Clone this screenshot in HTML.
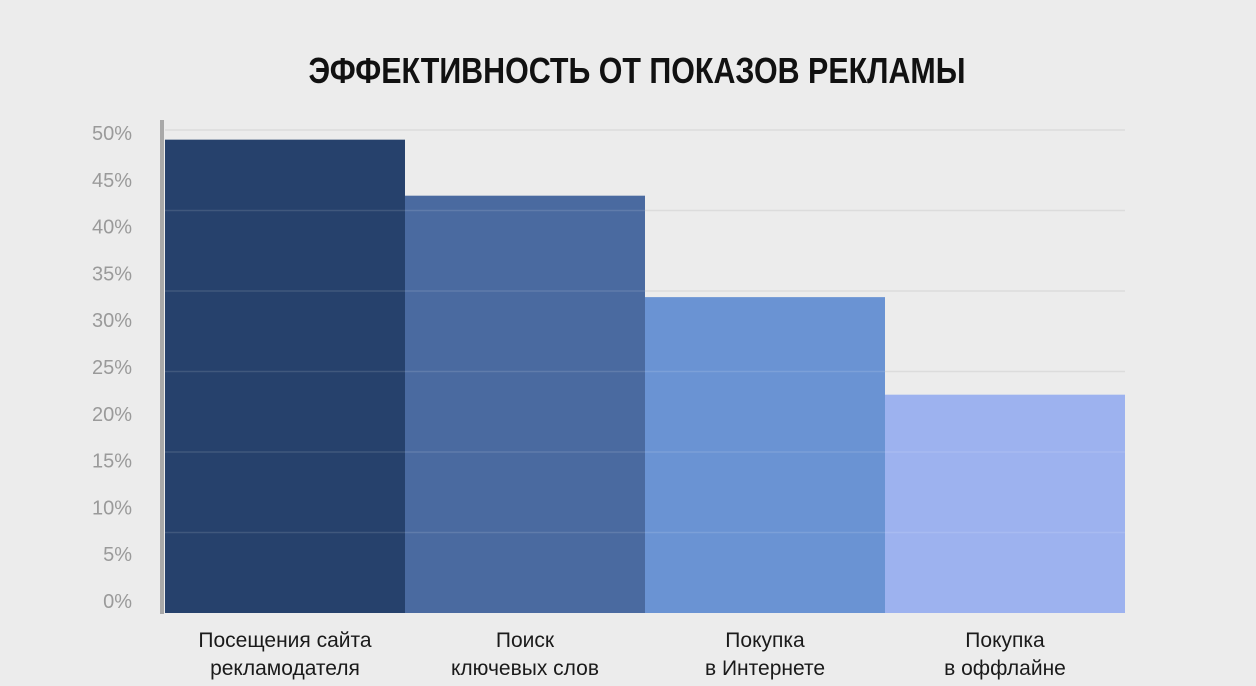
<!DOCTYPE html>
<html><head><meta charset="utf-8"><style>
body{margin:0;width:1256px;height:686px;background:#ececec;overflow:hidden;font-family:"Liberation Sans",sans-serif;}
svg{display:block}
</style></head><body>
<svg id="chart" width="1256" height="686" xmlns="http://www.w3.org/2000/svg">
<rect width="1256" height="686" fill="#ececec"/>
<text x="637" y="83" text-anchor="middle" textLength="657" lengthAdjust="spacingAndGlyphs" font-family="Liberation Sans, sans-serif" font-weight="bold" font-size="36" fill="#111">ЭФФЕКТИВНОСТЬ ОТ ПОКАЗОВ РЕКЛАМЫ</text>
<g id="grid"></g><g id="bars"></g><g id="gridover"></g><g id="yticks"></g><g id="xlabels"></g>
<rect x="160" y="120" width="4" height="494" fill="#a9a9a9"/>
</svg>
<script>
const categories=[["Посещения сайта","рекламодателя"],["Поиск","ключевых слов"],["Покупка","в Интернете"],["Покупка","в оффлайне"]];
const values=[49,43.2,32.7,22.6];
const colors=["#26416c","#4a6aa0","#6a93d3","#9db2ef"];
const tickValues=[0,5,10,15,20,25,30,35,40,45,50];
const tickLabels=["0%","5%","10%","15%","20%","25%","30%","35%","40%","45%","50%"];
const gridFractions=[1/6,2/6,3/6,4/6,5/6,1];
const NS="http://www.w3.org/2000/svg";
const x0=165,bw=240,yBase=613,yTop=130,vMax=50;
function y(v){return yBase-(v/vMax)*(yBase-yTop);}
function yLabel(v){return 601-(v/vMax)*468;}
function mk(t,a,p){const e=document.createElementNS(NS,t);for(const k in a)e.setAttribute(k,a[k]);p.appendChild(e);return e;}
const grid=document.getElementById('grid'),gover=document.getElementById('gridover');
gridFractions.forEach(f=>{
  const gy=yBase-f*(yBase-yTop);
  const l=mk('line',{x1:165,x2:1125,y1:gy,y2:gy,stroke:'#d8d8d8','stroke-width':1.5},grid);
  
  
  const l2=mk('line',{x1:165,x2:1125,y1:gy,y2:gy,stroke:'rgba(255,255,255,0.12)','stroke-width':1.5},gover);
  
  
});
const bars=document.getElementById('bars');
values.forEach((v,i)=>{
  const r=mk('rect',{x:x0+i*bw,y:y(v),width:bw,height:yBase-y(v),fill:colors[i]},bars);
  
  
});
const yt=document.getElementById('yticks');
tickValues.forEach((v,i)=>{
  const t=mk('text',{x:132,y:yLabel(v)+7,'text-anchor':'end','font-size':20,fill:'#9a9a9a'},yt);
  t.textContent=tickLabels[i];
  
  
});
const xl=document.getElementById('xlabels');
categories.forEach((c,i)=>{
  const cx=x0+i*bw+bw/2;
  c.forEach((line,j)=>{
    const t=mk('text',{x:cx,y:647+j*28,'text-anchor':'middle','font-size':21,fill:'#1a1a1a'},xl);
    t.textContent=line;
    
    
  });
});
</script>
</body></html>
